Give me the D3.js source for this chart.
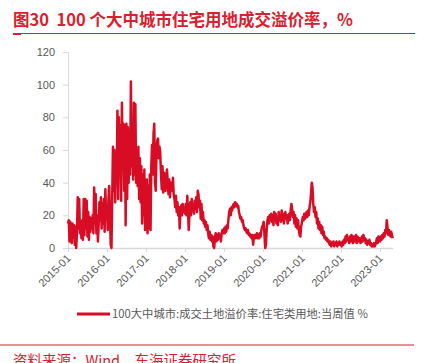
<!DOCTYPE html>
<html>
<head>
<meta charset="utf-8">
<script src="https://cdn.jsdelivr.net/npm/d3@7"></script>
<style>
  html, body { margin: 0; padding: 0; background: #fff; }
  svg { display: block; }
</style>
</head>
<body>
<svg id="chart" width="432" height="363"></svg>
<script>
// weekly values, one array per year (%)
const v2015 = [15, 17, 4, 16, 12, 3, 15, 8, 14, 2, 13, 0, 10, 31, 12, 30, 9, 14, 6, 17, 5, 30, 8, 30, 12, 29,
  7, 22, 5, 19, 10, 18, 12, 20, 9, 37, 15, 33, 9, 20, 4, 14, 28, 17, 31, 12, 27, 15, 30, 10, 36, 20];
const v2016 = [25, 11, 30, 38, 20, 2, 0, 30, 62, 35, 60, 28, 55, 40, 84, 30, 80, 45, 75, 29, 89, 50, 76, 35, 75, 14,
  76, 30, 74, 40, 70, 45, 102, 50, 75, 42, 89, 45, 88, 40, 60, 38, 62, 30, 55, 28, 50, 15, 45, 20, 48, 11];
const v2017 = [30, 42, 9, 38, 12, 45, 11, 50, 63, 45, 70, 76, 40, 35, 60, 66, 67, 55, 62, 58, 45, 36, 50, 34, 46, 38,
  35, 44, 48, 40, 33, 42, 31, 40, 35, 38, 43, 33, 30, 25, 32, 22, 28, 20, 25, 12, 22, 26, 20, 27, 22, 25];
const v2018 = [21, 27, 20, 32, 22, 11, 22, 28, 20, 30, 23, 26, 21, 29, 24, 31, 22, 35, 33, 25, 29, 18, 27, 17, 22, 15,
  17, 13, 16, 11, 14, 9, 6, 10, 5, 8, 4, 7, 1, 0, 6, 9, 4, 8, 5, 9, 6, 8, 4, 9, 11, 9];
const v2019 = [12, 9, 13, 10, 14, 12, 18, 22, 24, 20, 25, 23, 26, 27, 25, 28, 26, 27, 25, 26, 22, 20, 18, 19, 16, 17,
  14, 12, 11, 12, 10, 9, 11, 8, 9, 7, 8, 6, 8, 2, 7, 8, 6, 7, 9, 6, 8, 6, 9, 7, 11, 13];
const v2020 = [14, 16, 8, 0, 2, 12, 17, 19, 15, 20, 17, 21, 16, 20, 14, 22, 17, 21, 15, 19, 14, 22, 17, 20, 16, 23,
  17, 21, 15, 19, 22, 18, 20, 15, 19, 21, 17, 23, 27, 24, 19, 22, 15, 20, 13, 18, 12, 17, 11, 8, 7, 13];
const v2021 = [16, 19, 17, 21, 18, 20, 22, 19, 23, 20, 25, 28, 33, 40, 37, 27, 22, 25, 19, 22, 15, 18, 12, 16, 11, 14,
  9, 13, 8, 10, 6, 7, 5, 6, 4, 5, 3, 2, 4, 1, 3, 2, 4, 1, 3, 2, 4, 1, 3, 2, 4, 2];
const v2022 = [3, 1, 4, 2, 5, 3, 7, 4, 8, 5, 6, 3, 7, 4, 8, 5, 3, 7, 4, 6, 8, 3, 7, 5, 4, 6,
  3, 5, 7, 4, 8, 5, 6, 3, 5, 2, 4, 3, 5, 2, 3, 1, 2, 1, 3, 1, 2, 4, 6, 3, 7, 5];
const v2023 = [4, 7, 5, 8, 6, 9, 7, 11, 9, 17, 13, 8, 11, 9, 7, 10, 8, 6];

const years = [2015, 2016, 2017, 2018, 2019, 2020, 2021, 2022, 2023];
const yearValues = [v2015, v2016, v2017, v2018, v2019, v2020, v2021, v2022, v2023];

const yTicks = [0, 20, 40, 60, 80, 100, 120];
const xTickLabels = years.map(y => `${y}-01`);

const titleText = "图30  100 个大中城市住宅用地成交溢价率，%";
const legendText = "100大中城市:成交土地溢价率:住宅类用地:当周值 %";
const sourceText = "资料来源：Wind，东海证券研究所";

const red = "#d80c24";
const titleRed = "#d9202e";
const axisGray = "#d9d9d9";
const labelGray = "#595959";
const latin = "'Liberation Sans', Arial, sans-serif";
const cjk = "'Noto Sans CJK SC', 'Liberation Sans', sans-serif";

// weekly points: week i of a year sits i*7 days after Jan 1
const DAY = 24 * 3600 * 1000;
const data = [];
years.forEach((yr, k) => {
  const start = new Date(yr, 0, 1).getTime();
  yearValues[k].forEach((v, i) => data.push({ date: new Date(start + i * 7 * DAY), value: v }));
});

const svg = d3.select("#chart");

// plot geometry
const plotLeft = 68, plotBottom = 248, plotTop = 52;

const x = d3.scaleTime()
  .domain([new Date(2015, 0, 1), new Date(2023, 0, 1)])
  .range([plotLeft, 380]);
const y = d3.scaleLinear().domain([0, 120]).range([plotBottom, plotTop]);

// title
svg.append("text")
  .attr("x", 13).attr("y", 26)
  .attr("font-family", cjk)
  .attr("font-size", 16.5)
  .attr("font-weight", "bold")
  .attr("fill", titleRed)
  .attr("xml:space", "preserve")
  .text(titleText);

svg.append("line")
  .attr("x1", 13).attr("x2", 415).attr("y1", 33.5).attr("y2", 33.5)
  .attr("stroke", titleRed).attr("stroke-width", 1);
svg.append("line")
  .attr("x1", 13).attr("x2", 21).attr("y1", 34).attr("y2", 34)
  .attr("stroke", titleRed).attr("stroke-width", 2);

// y axis
const yAxis = svg.append("g")
  .attr("transform", `translate(${plotLeft},0)`)
  .call(d3.axisLeft(y).tickValues(yTicks).tickSize(5).tickPadding(8).tickSizeOuter(0));
yAxis.select(".domain").attr("stroke", axisGray);
yAxis.selectAll(".tick line").attr("stroke", axisGray);
yAxis.selectAll(".tick text")
  .attr("fill", labelGray)
  .attr("font-family", latin)
  .attr("font-size", 11);

// x axis, domain line ends at the last week
const last = data[data.length - 1].date;
const xAxisScale = x.copy().domain([new Date(2015, 0, 1), last]).range([plotLeft, x(last)]);
const xAxis = svg.append("g")
  .attr("transform", `translate(0,${plotBottom})`)
  .call(d3.axisBottom(xAxisScale)
    .tickValues(years.map(yr => new Date(yr, 0, 1)))
    .tickFormat((d, i) => xTickLabels[i])
    .tickSize(4)
    .tickSizeOuter(0));
xAxis.select(".domain").attr("stroke", axisGray).attr("stroke-width", 1.5);
xAxis.selectAll(".tick line").attr("stroke", axisGray);
xAxis.selectAll(".tick text")
  .attr("fill", labelGray)
  .attr("font-family", latin)
  .attr("font-size", 11)
  .attr("text-anchor", "end")
  .attr("y", 0).attr("dy", 0)
  .attr("transform", "translate(3,11) rotate(-45)");

// series
const line = d3.line()
  .x(d => x(d.date))
  .y(d => y(d.value));

svg.append("path")
  .datum(data)
  .attr("fill", "none")
  .attr("stroke", red)
  .attr("stroke-width", 2.5)
  .attr("stroke-linejoin", "round")
  .attr("d", line);

// legend
svg.append("line")
  .attr("x1", 77).attr("x2", 110).attr("y1", 314).attr("y2", 314)
  .attr("stroke", red).attr("stroke-width", 3);
svg.append("text")
  .attr("x", 112).attr("y", 318)
  .attr("font-family", cjk)
  .attr("font-size", 11.3)
  .attr("fill", labelGray)
  .text(legendText);

// footer
svg.append("line")
  .attr("x1", 0).attr("x2", 414).attr("y1", 345).attr("y2", 345)
  .attr("stroke", titleRed).attr("stroke-width", 1.2);
svg.append("text")
  .attr("x", 13).attr("y", 366)
  .attr("font-family", cjk)
  .attr("font-size", 14.5)
  .attr("fill", titleRed)
  .text(sourceText);
</script>
</body>
</html>
